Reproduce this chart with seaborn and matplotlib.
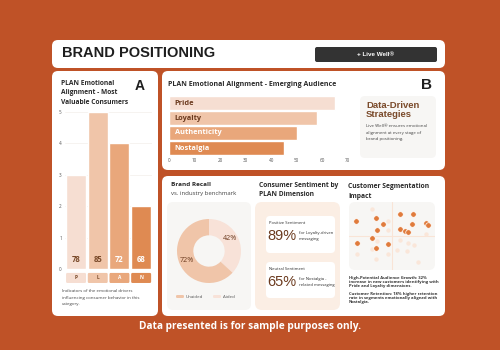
import matplotlib
matplotlib.use("Agg")
import matplotlib.pyplot as plt
from matplotlib.patches import FancyBboxPatch
from matplotlib.transforms import blended_transform_factory
import seaborn as sns

# ---- data ----
plan_letters = ["P", "L", "A", "N"]
plan_levels = [3, 5, 4, 2]
plan_scores = [78, 85, 72, 68]
plan_colors = ["#F6DED2", "#F0C5A9", "#E9A77B", "#DF8A52"]
plan_text = ["#7A4A2A", "#7A4A2A", "white", "white"]

emerging_names = ["Pride", "Loyalty", "Authenticity", "Nostalgia"]
emerging_values = [65, 58, 50, 45]

recall_labels = ["Aided", "Unaided"]
recall_values = [42, 72]
recall_colors = ["#F8E2D8", "#F0C5A9"]

sentiment_kind = ["Positive Sentiment", "Neutral Sentiment"]
sentiment_pct = [89, 65]
sentiment_note = ["for Loyalty-driven\nmessaging", "for Nostalgia -\nrelated messaging"]

seg_hi_x = [0.8, 3.1, 3.9, 3.3, 5.9, 7.4, 7.3, 8.9, 9.2, 5.9, 6.5, 6.9, 2.7, 0.9, 4.5, 3.1]
seg_hi_y = [7.2, 7.6, 6.8, 5.9, 8.2, 8.2, 6.8, 6.9, 6.6, 6.0, 5.7, 5.6, 4.7, 4.0, 3.8, 3.2]
seg_lo_x = [2.7, 4.5, 4.5, 8.9, 3.3, 5.9, 6.9, 7.6, 5.6, 6.8, 2.7, 0.9, 4.5, 3.1, 8.0]
seg_lo_y = [9.0, 7.2, 5.9, 5.3, 4.3, 4.4, 4.0, 3.7, 2.9, 2.8, 3.1, 2.4, 2.4, 1.6, 1.2]

# ---- style ----
ORANGE = "#BF5227"
BROWN = "#6B3A1E"
DARK = "#2A2A2A"
sns.set_style("white")
plt.rcParams["font.family"] = ["Open Sans", "DejaVu Sans"]

W, H = 500, 350
fig = plt.figure(figsize=(5, 3.5), dpi=100, facecolor=ORANGE)

bg = fig.add_axes([0, 0, 1, 1])
bg.set_xlim(0, W)
bg.set_ylim(H, 0)
bg.axis("off")
bg.set_facecolor(ORANGE)


def ax_at(x0, y0, x1, y1):
    return fig.add_axes([x0 / W, 1 - y1 / H, (x1 - x0) / W, (y1 - y0) / H])


def box(x0, y0, x1, y1, color, r=6):
    bg.add_patch(FancyBboxPatch((x0, y0), x1 - x0, y1 - y0,
                                boxstyle=f"round,pad=0,rounding_size={r}",
                                fc=color, ec="none"))


# ---- panels ----
box(52, 40, 445, 68, "white")
box(52, 71, 158, 316, "white")
box(162, 71, 445, 170, "white")
box(162, 176, 445, 316, "white")

# header
bg.text(62, 53, "BRAND POSITIONING", fontsize=10.5, fontweight="bold",
        family="Liberation Sans", color="#1E1E1E", va="center")
box(315, 47, 437, 62, "#333333", r=2)
bg.text(376, 55, "+ Live Well®", fontsize=4.5, fontweight="bold", color="white",
        ha="center", va="center", family="Liberation Sans")

# ---- panel A ----
bg.text(61, 93, "PLAN Emotional\nAlignment - Most\nValuable Consumers", fontsize=4.8,
        fontweight="bold", color=DARK, va="center", linespacing=1.45)
bg.text(140, 86, "A", fontsize=10, fontweight="bold", color="#1E1E1E",
        ha="center", va="center", family="Liberation Sans")

axA = ax_at(65.2, 112, 152, 269)
sns.barplot(x=plan_letters, y=plan_levels, hue=plan_letters, palette=plan_colors,
            width=0.92, saturation=1, legend=False, ax=axA)
axA.set_ylim(0, 5)
axA.set_yticks(range(6))
axA.set_yticklabels([str(i) for i in range(6)], fontsize=3.3, color="#555555")
axA.tick_params(axis="y", length=0, pad=2.5)
axA.tick_params(axis="x", length=0, labelbottom=False)
axA.yaxis.grid(True, color="#F3EEEA", lw=0.5)
axA.set_axisbelow(True)
sns.despine(ax=axA, left=True, bottom=True)
axA.set_facecolor("none")
tA = blended_transform_factory(axA.transData, axA.transAxes)
for i, (s, c, tc, lt) in enumerate(zip(plan_scores, plan_colors, plan_text, plan_letters)):
    axA.text(i, 0.29, str(s), ha="center", va="center", fontsize=5.5,
             fontweight="bold", color=tc)
    axA.add_patch(FancyBboxPatch((i - 0.46, -0.089), 0.92, 0.064,
                                 boxstyle="round,pad=0,rounding_size=0.05",
                                 transform=tA, clip_on=False, fc=c, ec="none",
                                 mutation_aspect=0.2))
    axA.text(i, -0.057, lt, transform=tA, ha="center", va="center", fontsize=3.5,
             fontweight="bold", color=tc)
bg.text(62, 297.5, "Indicators of the emotional drivers\ninfluencing consumer behavior in this\ncategory.",
        fontsize=3.2, color="#444444", va="center", linespacing=2.0)

# ---- panel B ----
bg.text(168, 84, "PLAN Emotional Alignment - Emerging Audience", fontsize=5.0,
        fontweight="bold", color=DARK, va="center")
bg.text(427, 85, "B", fontsize=11, fontweight="bold", color="#1E1E1E",
        ha="center", va="center", family="Liberation Sans")

axB = ax_at(169, 95.5, 347.7, 155.5)
sns.barplot(x=emerging_values, y=emerging_names, hue=emerging_names, palette=plan_colors,
            orient="h", width=0.93, saturation=1, legend=False, ax=axB)
axB.set_xlim(0, 70)
axB.set_xticks(range(0, 71, 10))
axB.set_xticklabels([str(v) for v in range(0, 71, 10)], fontsize=3.3, color="#555555")
axB.tick_params(axis="x", length=0, pad=2)
axB.tick_params(axis="y", length=0, labelleft=False)
axB.set_xlabel("")
axB.set_ylabel("")
sns.despine(ax=axB, left=True, bottom=True)
axB.axvline(70, color="#EEEEEE", lw=0.6, zorder=0)
axB.set_facecolor("none")
for i, name in enumerate(emerging_names):
    axB.text(2.3, i, name, va="center", ha="left", fontsize=5.3, fontweight="bold",
             color=plan_text[i] if plan_text[i] == "white" else BROWN)

box(360, 96, 436, 158, "#F7F6F4", r=5)
bg.text(366, 101, "Data-Driven\nStrategies", fontsize=6.8, fontweight="bold",
        color="#7A4A2A", va="top", family="Liberation Sans", linespacing=1.0)
bg.text(366, 124, "Live Well® ensures emotional\nalignment at every stage of\nbrand positioning.",
        fontsize=3.2, color="#444444", va="top", linespacing=1.9)

# ---- brand recall ----
bg.text(171, 184, "Brand Recall", fontsize=4.6, fontweight="bold", color=DARK, va="center")
bg.text(171, 194, "vs. industry benchmark", fontsize=4.3, color="#444444", va="center")
box(167, 202, 251, 310, "#F7F6F4", r=6)
axD = ax_at(177, 219, 241, 283)
axD.pie(recall_values, colors=recall_colors, startangle=90, counterclock=False,
        wedgeprops=dict(width=0.51, edgecolor="none"))
axD.set_xlim(-1, 1)
axD.set_ylim(-1, 1)
axD.set_aspect("equal")
axD.text(0.66, 0.38, f"{recall_values[0]}%", ha="center", va="center", fontsize=5.2, color=BROWN)
axD.text(-0.69, -0.31, f"{recall_values[1]}%", ha="center", va="center", fontsize=5.2, color=BROWN)
for lx, lab, col in [(176, "Unaided", recall_colors[1]), (213, "Aided", recall_colors[0])]:
    box(lx, 295, lx + 8, 298, col, r=1.2)
    bg.text(lx + 10, 296.5, lab, fontsize=3.2, color="#555555", va="center")

# ---- consumer sentiment ----
bg.text(259, 190, "Consumer Sentiment by\nPLAN Dimension", fontsize=4.8, fontweight="bold",
        color=DARK, va="center", linespacing=1.55)
box(255, 202, 340, 310, "#FBEEE4", r=7)
for k, (y0, y1) in enumerate([(216, 253), (262, 298)]):
    box(266, y0, 335, y1, "white", r=4)
    bg.text(269, y0 + 7, sentiment_kind[k], fontsize=3.0, color=DARK, va="center")
    bg.text(267, y0 + 20, f"{sentiment_pct[k]}%", fontsize=10.5, color=BROWN,
            va="center", family="Liberation Sans")
    bg.text(299, y0 + 20, sentiment_note[k], fontsize=3.0, color=DARK, va="center",
            linespacing=1.8)

# ---- customer segmentation ----
bg.text(348, 192, "Customer Segmentation\nImpact", fontsize=4.9, fontweight="bold",
        color=DARK, va="center", linespacing=1.6)
box(349, 202, 435, 270, "#F7F6F4", r=6)
axS = ax_at(349, 202, 435, 270)
axS.axhline(5, color="#F9E4D6", lw=0.8, zorder=0)
axS.axvline(5, color="#F9E4D6", lw=0.8, zorder=0)
sns.scatterplot(x=seg_lo_x, y=seg_lo_y, color="#FAE6D9", s=10, linewidth=0, ax=axS)
sns.scatterplot(x=seg_hi_x, y=seg_hi_y, color="#E07B3C", s=16, edgecolor="white",
                linewidth=0.5, ax=axS)
axS.set_xlim(0, 10)
axS.set_ylim(0, 10)
axS.axis("off")
bg.text(349, 282, "High-Potential Audience Growth: 32%\nincrease in new customers identifying with\nPride and Loyalty dimensions.",
        fontsize=3.0, fontweight="bold", color="#333333", va="center", linespacing=1.15)
bg.text(349, 298, "Customer Retention: 18% higher retention\nrate in segments emotionally aligned with\nNostalgia.",
        fontsize=3.0, fontweight="bold", color="#333333", va="center", linespacing=1.15)

# ---- footer ----
bg.text(250, 327, "Data presented is for sample purposes only.", fontsize=7.3,
        fontweight="bold", color="white", ha="center", va="center")

fig.savefig("out.png", dpi=100, facecolor=ORANGE)
